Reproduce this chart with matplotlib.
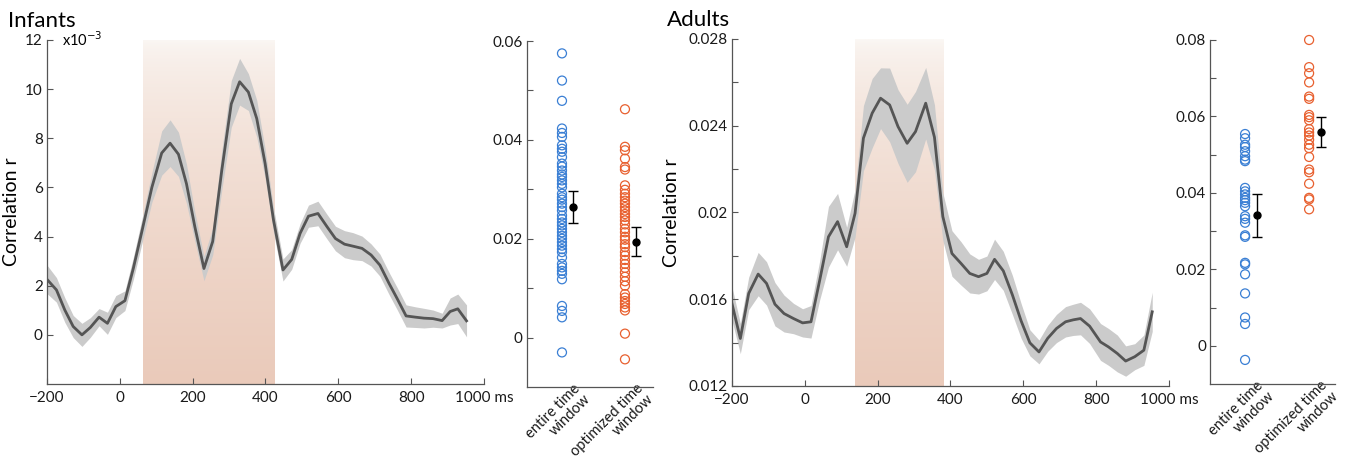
import numpy as np
import matplotlib
matplotlib.use("Agg")
import matplotlib.pyplot as plt
import matplotlib.transforms as mtransforms

plt.rcParams['font.family'] = ['Lato', 'DejaVu Sans']

# --- Infants: time course (r in units of 1e-3) ---
inf_time = [-200, -174, -151, -128, -104, -81, -57, -34, -11, 14, 37, 62, 88, 115, 138, 161,
            183, 206, 231, 255, 280, 306, 329, 353, 376, 399, 422, 448, 472, 495, 518, 544,
            569, 592, 617, 640, 665, 690, 714, 739, 761, 786, 812, 835, 860, 885, 907, 928, 952]
inf_mean = [2.26, 1.83, 1.01, 0.34, 0.0, 0.3, 0.72, 0.47, 1.15, 1.39, 2.7, 4.3, 6.0, 7.4, 7.8, 7.35,
            6.15, 4.4, 2.7, 3.8, 6.7, 9.4, 10.3, 9.88, 8.8, 6.97, 4.67, 2.64, 3.07, 4.13, 4.83, 4.94,
            4.4, 3.92, 3.69, 3.61, 3.52, 3.25, 2.84, 2.1, 1.49, 0.77, 0.72, 0.68, 0.66, 0.58, 0.95, 1.06, 0.57]
inf_sem = [0.58, 0.5, 0.5, 0.45, 0.47, 0.4, 0.35, 0.45, 0.45, 0.4, 0.45, 0.5, 0.6, 0.9, 0.95, 0.9,
           0.8, 0.6, 0.5, 0.55, 0.8, 0.95, 0.95, 0.75, 0.75, 0.6, 0.5, 0.45, 0.4, 0.4, 0.45, 0.5,
           0.5, 0.5, 0.55, 0.55, 0.5, 0.45, 0.45, 0.45, 0.45, 0.45, 0.42, 0.4, 0.35, 0.3, 0.55, 0.6, 0.65]
inf_window = [63, 423]

# --- Adults: time course (r in units of 1e-3) ---
ad_time = [-200, -177, -154, -128, -105, -82, -57, -31, -6, 17, 41, 65, 90, 115, 138, 161,
           185, 208, 233, 256, 281, 304, 332, 356, 379, 404, 429, 453, 477, 500, 521, 545,
           570, 594, 618, 643, 667, 691, 716, 737, 757, 782, 812, 834, 858, 881, 906, 931, 954]
ad_mean = [15.8, 14.19, 16.27, 17.16, 16.73, 15.77, 15.34, 15.11, 14.91, 14.96, 16.88, 18.88, 19.58, 18.42, 19.96, 23.43,
           24.58, 25.27, 24.96, 23.96, 23.19, 23.73, 25.04, 23.47, 19.81, 18.11, 17.65, 17.19, 17.04, 17.19, 17.84, 17.31,
           16.2, 15.0, 13.99, 13.57, 14.2, 14.65, 14.96, 15.05, 15.11, 14.76, 14.03, 13.8, 13.5, 13.15, 13.35, 13.65, 15.42]
ad_sem = [0.77, 0.7, 0.75, 1.0, 1.0, 1.0, 0.85, 0.7, 0.65, 0.75, 0.9, 1.4, 1.3, 0.9, 1.1, 1.5,
          1.6, 1.4, 1.7, 1.7, 1.8, 1.85, 1.65, 1.5, 1.1, 1.05, 1.0, 0.9, 0.8, 0.8, 0.93, 0.9,
          0.9, 0.8, 0.6, 0.55, 0.6, 0.65, 0.7, 0.72, 0.75, 0.8, 0.85, 0.85, 0.85, 0.7, 0.6, 0.7, 0.9]
ad_window = [137, 381]

# --- per-subject correlations (r) ---
inf_entire = [0.0575, 0.052, 0.0479, 0.0423, 0.0414, 0.0406, 0.0389, 0.0382, 0.0376, 0.0365, 0.0352,
              0.0346, 0.0338, 0.033, 0.0325, 0.0318, 0.0311, 0.0304, 0.0291, 0.0284, 0.0279, 0.0271,
              0.0264, 0.0257, 0.0247, 0.024, 0.0233, 0.0227, 0.022, 0.0213, 0.0206, 0.02, 0.0193,
              0.0186, 0.0179, 0.0173, 0.0162, 0.0149, 0.0142, 0.0135, 0.0129, 0.0118, 0.0064,
              0.0054, 0.0041, -0.003]
inf_optim = [0.0462, 0.0386, 0.0379, 0.0362, 0.0345, 0.034, 0.0308, 0.0299, 0.0291, 0.0284, 0.0277,
             0.0271, 0.0264, 0.0257, 0.025, 0.0244, 0.0237, 0.0229, 0.022, 0.0213, 0.0204, 0.0198,
             0.0189, 0.0183, 0.0173, 0.0166, 0.0157, 0.0149, 0.0141, 0.0132, 0.0123, 0.0114, 0.0105,
             0.0088, 0.0081, 0.0074, 0.0068, 0.0061, 0.0055, 0.0008, -0.0044]
ad_entire = [0.0554, 0.0543, 0.0526, 0.052, 0.0509, 0.0496, 0.0487, 0.0483, 0.0413, 0.0404, 0.0396,
             0.0387, 0.0381, 0.0374, 0.0365, 0.0339, 0.0332, 0.0322, 0.0289, 0.0285, 0.0217, 0.0213,
             0.0187, 0.0137, 0.0074, 0.0057, -0.0037]
ad_optim = [0.08, 0.0729, 0.0713, 0.0689, 0.0652, 0.0646, 0.0604, 0.0598, 0.059, 0.0567, 0.0558,
            0.055, 0.0539, 0.0526, 0.0517, 0.0494, 0.0461, 0.0454, 0.0424, 0.0387, 0.0383, 0.0357]

inf_group_mean = [0.0264, 0.0194]
inf_group_err = [0.0033, 0.0029]
ad_group_mean = [0.0341, 0.0559]
ad_group_err = [0.0057, 0.0040]

cond_labels = ['entire time\nwindow', 'optimized time\nwindow']
time_ticks = [-200, 0, 200, 400, 600, 800, 1000]

LINE = '#555555'
BAND = '#cbcbcb'
BLUE = '#3a7fd4'
ORANGE = '#e8602f'
SPINE = '#555555'


def style_axis(ax):
    for side in ['top', 'right']:
        ax.spines[side].set_visible(False)
    for side in ['left', 'bottom']:
        ax.spines[side].set_color(SPINE)
        ax.spines[side].set_linewidth(0.9)
    ax.tick_params(direction='in', length=4, width=0.8, color=SPINE,
                   labelsize=11, labelcolor='#1a1a1a', pad=3)


def draw_timecourse(ax, t, m, s, window, ylim):
    t = np.array(t)
    m = np.array(m)
    s = np.array(s)
    # gradient shading for the optimized window
    grad = np.linspace(0, 1, 256) ** 0.6
    top = np.array([251, 248, 245]) / 255
    bot = np.array([234, 202, 186]) / 255
    img = top[None, :] + grad[:, None] * (bot - top)[None, :]
    ax.imshow(img[:, None, :], extent=[window[0], window[1], ylim[0], ylim[1]],
              origin='upper', aspect='auto', zorder=0, interpolation='bilinear')
    ax.fill_between(t, m - s, m + s, color=BAND, lw=0, zorder=1)
    ax.plot(t, m, color=LINE, lw=2.0, zorder=2)
    ax.set_xlim(-200, 1000)
    ax.set_ylim(ylim)
    ax.set_xticks(time_ticks)
    ax.set_xticklabels(['\u2212200', '0', '200', '400', '600', '800', '1000 ms'])
    style_axis(ax)
    ax.tick_params(axis='x', pad=5)


def draw_scatter(ax, entire, optim, gm, ge, xlim, ylim, yticks, ylabels):
    ax.scatter(np.ones(len(entire)), entire, s=42, facecolors='none',
               edgecolors=BLUE, linewidths=0.9, zorder=2, clip_on=False)
    ax.scatter(np.full(len(optim), 2.0), optim, s=42, facecolors='none',
               edgecolors=ORANGE, linewidths=0.9, zorder=2, clip_on=False)
    ax.errorbar(np.array([1, 2]) + 0.18, gm, yerr=ge, fmt='o', color='black',
                ms=5, capsize=3.5, elinewidth=1.0, capthick=1.0, zorder=3)
    ax.set_xlim(xlim)
    ax.set_ylim(ylim)
    ax.set_yticks(yticks)
    ax.set_yticklabels(ylabels)
    ax.set_xticks([1, 2])
    style_axis(ax)
    ax.set_xticklabels(cond_labels, rotation=45, ha='right', va='top',
                       rotation_mode='anchor', fontsize=10.5, linespacing=1.1)
    ax.tick_params(axis='x', length=0, pad=1)
    # nudge the rotated labels to the right, as in the original
    shift = mtransforms.ScaledTranslation(8 / 72, 5 / 72, ax.figure.dpi_scale_trans)
    for lab in ax.get_xticklabels():
        lab.set_transform(lab.get_transform() + shift)


fig = plt.figure(figsize=(13.46, 4.71), dpi=100)

# Infants
ax1 = fig.add_axes([0.0349, 0.1847, 0.3247, 0.7304])
draw_timecourse(ax1, inf_time, inf_mean, inf_sem, inf_window, (-2, 12))
ax1.set_yticks([0, 2, 4, 6, 8, 10, 12])
ax1.set_ylabel('Correlation r', fontsize=14)
ax1.yaxis.set_label_coords(-0.062, 0.5)
ax1.text(0.035, 1.0, 'x10$^{-3}$', transform=ax1.transAxes, fontsize=10.5,
         ha='left', va='center')
fig.text(0.006, 0.942, 'Infants', fontsize=16, ha='left', va='baseline')

ax2 = fig.add_axes([0.3915, 0.1783, 0.0936, 0.7346])
draw_scatter(ax2, inf_entire, inf_optim, inf_group_mean, inf_group_err,
             (0.444, 2.444), (-0.01, 0.06),
             [0, 0.01, 0.02, 0.03, 0.04, 0.05, 0.06],
             ['0', '', '0.02', '', '0.04', '', '0.06'])

# Adults
ax3 = fig.add_axes([0.5438, 0.1805, 0.3247, 0.7367])
draw_timecourse(ax3, ad_time, np.array(ad_mean) / 1000, np.array(ad_sem) / 1000,
                ad_window, (0.012, 0.028))
ad_yt = [0.012, 0.014, 0.016, 0.018, 0.02, 0.022, 0.024, 0.026, 0.028]
ax3.set_yticks(ad_yt)
ax3.set_yticklabels(['0.012', '', '0.016', '', '0.02', '', '0.024', '', '0.028'])
ax3.set_ylabel('Correlation r', fontsize=14)
ax3.yaxis.set_label_coords(-0.119, 0.5)
fig.text(0.4955, 0.945, 'Adults', fontsize=16, ha='left', va='baseline')

ax4 = fig.add_axes([0.899, 0.1847, 0.0929, 0.7304])
draw_scatter(ax4, ad_entire, ad_optim, ad_group_mean, ad_group_err,
             (0.453, 2.406), (-0.01, 0.08),
             [0, 0.01, 0.02, 0.03, 0.04, 0.05, 0.06, 0.07, 0.08],
             ['0', '', '0.02', '', '0.04', '', '0.06', '', '0.08'])

fig.savefig('out.png', dpi=100)
